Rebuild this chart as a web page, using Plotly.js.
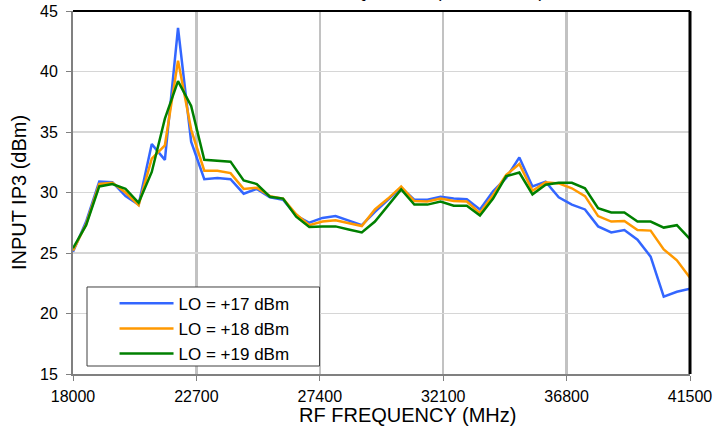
<!DOCTYPE html>
<html>
<head>
<meta charset="utf-8">
<script src="https://cdn.plot.ly/plotly-3.0.1.min.js"></script>
<style>
  html, body { margin: 0; padding: 0; background: #ffffff; }
  #chart { width: 714px; height: 438px; }
</style>
</head>
<body>
<div id="chart"></div>
<script>
// RF frequency (MHz)
var rfFreq = [18000, 18500, 19000, 19500, 20000, 20500, 21000, 21500, 22000, 22500,
              23000, 23500, 24000, 24500, 25000, 25500, 26000, 26500, 27000, 27500,
              28000, 28500, 29000, 29500, 30000, 30500, 31000, 31500, 32000, 32500,
              33000, 33500, 34000, 34500, 35000, 35500, 36000, 36500, 37000, 37500,
              38000, 38500, 39000, 39500, 40000, 40500, 41000, 41500];

// Input IP3 (dBm)
var iip3_LO17 = [25.1, 27.6, 30.9, 30.85, 29.7, 29.0, 34.0, 32.7, 43.6, 34.2,
                 31.1, 31.2, 31.1, 29.9, 30.3, 29.6, 29.4, 28.1, 27.5, 27.9,
                 28.05, 27.7, 27.3, 28.4, 29.4, 30.4, 29.4, 29.4, 29.65, 29.5,
                 29.45, 28.6, 30.1, 31.2, 32.9, 30.5, 30.9, 29.6, 29.0, 28.6,
                 27.2, 26.7, 26.9, 26.1, 24.7, 21.4, 21.8, 22.05];

var iip3_LO18 = [25.2, 27.4, 30.7, 30.8, 30.0, 28.95, 32.8, 33.9, 40.9, 35.2,
                 31.8, 31.8, 31.6, 30.3, 30.4, 29.7, 29.5, 28.2, 27.3, 27.6,
                 27.7, 27.45, 27.23, 28.6, 29.5, 30.5, 29.3, 29.25, 29.5, 29.3,
                 29.25, 28.3, 29.8, 31.45, 32.35, 30.15, 30.85, 30.75, 30.35, 29.7,
                 28.05, 27.6, 27.65, 26.9, 26.85, 25.3, 24.4, 22.95];

var iip3_LO19 = [25.4, 27.3, 30.5, 30.7, 30.3, 29.15, 31.7, 36.1, 39.2, 37.15,
                 32.7, 32.65, 32.55, 31.0, 30.7, 29.65, 29.5, 28.0, 27.15, 27.2,
                 27.2, 26.95, 26.7, 27.6, 28.95, 30.25, 29.0, 29.0, 29.25, 28.9,
                 28.9, 28.1, 29.5, 31.35, 31.65, 29.85, 30.65, 30.8, 30.8, 30.35,
                 28.7, 28.35, 28.35, 27.6, 27.6, 27.1, 27.3, 26.15];

var seriesNames = ['LO = +17 dBm', 'LO = +18 dBm', 'LO = +19 dBm'];
var xTickVals = [18000, 22700, 27400, 32100, 36800, 41500];
var xTickText = ['18000', '22700', '27400', '32100', '36800', '41500'];
var yTickVals = [15, 20, 25, 30, 35, 40, 45];
var titleText = 'INPUT IP3 vs. RF FREQUENCY (LO POWER)';
var xTitle = 'RF FREQUENCY (MHz)';
var yTitle = 'INPUT IP3 (dBm)';

var colors = ['#3366ff', '#ff9900', '#008000'];
var seriesY = [iip3_LO17, iip3_LO18, iip3_LO19];

var traces = seriesY.map(function (ys, i) {
  return {
    x: rfFreq,
    y: ys,
    type: 'scatter',
    mode: 'lines',
    name: seriesNames[i],
    line: { color: colors[i], width: 2.5 },
    hoverinfo: 'x+y+name'
  };
});

var fontFam = 'Liberation Sans, Arial, sans-serif';

var layout = {
  width: 714,
  height: 438,
  margin: { l: 73, r: 24, t: 11, b: 64, pad: 0 },
  paper_bgcolor: '#ffffff',
  plot_bgcolor: '#ffffff',
  font: { family: fontFam, size: 16, color: '#000000' },
  showlegend: true,
  legend: {
    x: 0.0673, y: 0.243, xanchor: 'left', yanchor: 'top',
    bgcolor: 'rgba(0,0,0,0)', borderwidth: 0,
    font: { family: fontFam, size: 17, color: '#000000' },
    itemwidth: 54,
    tracegroupgap: 0
  },
  xaxis: {
    range: [18000, 41500],
    tickmode: 'array',
    tickvals: xTickVals,
    ticktext: xTickText,
    showgrid: true,
    gridcolor: '#c2c2c2',
    gridwidth: 2.2,
    zeroline: false,
    showline: true,
    linecolor: '#808080',
    linewidth: 2,
    ticks: 'outside',
    ticklen: 5,
    tickwidth: 1,
    tickcolor: '#808080',
    ticklabelstandoff: 2,
    tickfont: { family: fontFam, size: 16, color: '#000000' },
    fixedrange: true
  },
  yaxis: {
    range: [15, 45],
    tickmode: 'array',
    tickvals: yTickVals,
    showgrid: true,
    gridcolor: '#d6d6d6',
    gridwidth: 1.5,
    zeroline: false,
    showline: true,
    linecolor: '#808080',
    linewidth: 2,
    ticks: 'outside',
    ticklen: 5,
    tickwidth: 1,
    tickcolor: '#808080',
    ticklabelstandoff: 5,
    tickfont: { family: fontFam, size: 16, color: '#000000' },
    title: { text: yTitle, font: { family: fontFam, size: 20, color: '#000000' }, standoff: 8 },
    fixedrange: true
  },
  shapes: [
    { type: 'line', xref: 'paper', yref: 'paper', x0: 0, x1: 1, y0: 1, y1: 1,
      line: { color: '#000000', width: 2 }, layer: 'above' },
    { type: 'line', xref: 'paper', yref: 'paper', x0: 1, x1: 1, y0: 0, y1: 1,
      line: { color: '#000000', width: 3 }, layer: 'above' },
    { type: 'rect', xref: 'paper', yref: 'paper', x0: 0.0227, x1: 0.3995, y0: 0.022, y1: 0.2397,
      fillcolor: '#ffffff', line: { color: '#404040', width: 1 }, layer: 'above' }
  ],
  annotations: [
    { text: titleText, xref: 'paper', yref: 'paper', x: 0.46, y: 1, xanchor: 'center', yanchor: 'bottom',
      yshift: 8, showarrow: false, font: { family: fontFam, size: 18, color: '#000000' } },
    { text: xTitle, xref: 'paper', yref: 'paper', x: 0.542, y: 0, xanchor: 'center', yanchor: 'middle',
      yshift: -41, showarrow: false, font: { family: fontFam, size: 20, color: '#000000' } }
  ]
};

Plotly.newPlot('chart', traces, layout, { displayModeBar: false, staticPlot: true });
</script>
</body>
</html>
